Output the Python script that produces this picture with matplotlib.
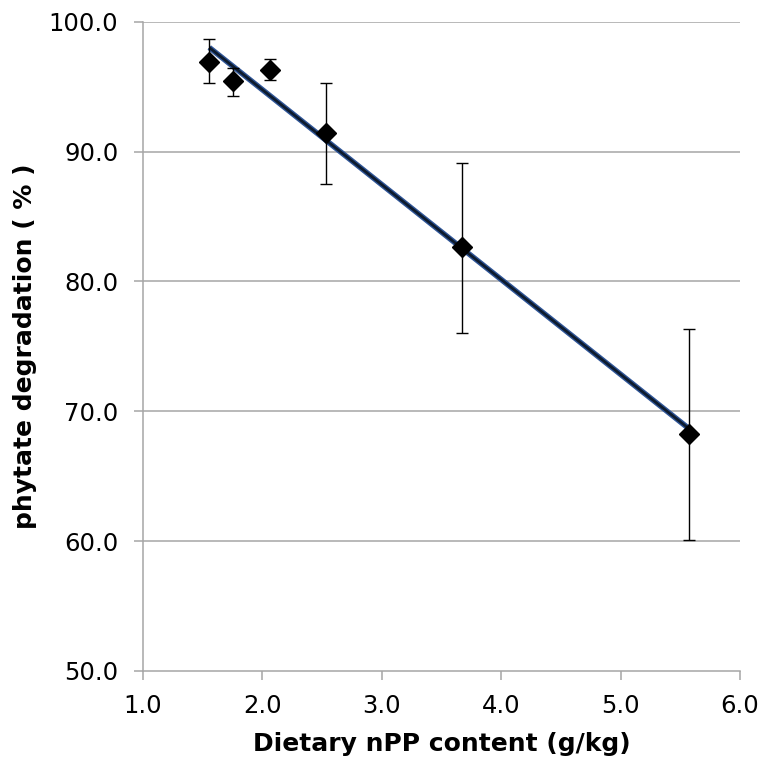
import numpy as np
import matplotlib
matplotlib.use("Agg")
import matplotlib.pyplot as plt

# Data
npp = [1.555, 1.756, 2.064, 2.53, 3.669, 5.575]
degradation = [96.9, 95.44, 96.28, 91.4, 82.65, 68.28]
err_upper = [98.65, 96.4, 97.1, 95.3, 89.1, 76.3]
err_lower = [95.3, 94.3, 95.5, 87.5, 76.0, 60.1]
xticks = [1.0, 2.0, 3.0, 4.0, 5.0, 6.0]
yticks = [50.0, 60.0, 70.0, 80.0, 90.0, 100.0]

x = np.array(npp)
y = np.array(degradation)
yerr = np.array([y - np.array(err_lower), np.array(err_upper) - y])

fig = plt.figure(figsize=(7.63, 7.60), dpi=100)
ax = fig.add_axes([143/763, 1-671/760, (740-143)/763, (671-21.7)/760])

for v in yticks[1:]:
    ax.axhline(v, color='#a6a6a6', lw=1.1, zorder=0)

# regression line
coef = np.polyfit(x, y, 1)
xl = np.array([x.min(), x.max()])
ax.plot(xl, np.polyval(coef, xl), color='#2f5597', lw=4.0, zorder=2, solid_capstyle='butt')
ax.plot(xl, np.polyval(coef, xl), color='#0d1b2e', lw=2.0, zorder=2.1, solid_capstyle='butt')

ax.errorbar(x, y, yerr=yerr, fmt='none', ecolor='black', elinewidth=1.0,
            capsize=4, capthick=1.0, zorder=3)
ax.plot(x, y, 'D', color='black', ms=10, zorder=4)

ax.set_xlim(1.0, 6.0)
ax.set_ylim(50.0, 100.0)
ax.set_xticks(xticks)
ax.set_yticks(yticks)
ax.set_xticklabels([f"{v:.1f}" for v in xticks])
ax.set_yticklabels([f"{v:.1f}" for v in yticks])

for s in ['top', 'right']:
    ax.spines[s].set_visible(False)
for s in ['left', 'bottom']:
    ax.spines[s].set_color('#a6a6a6')
    ax.spines[s].set_linewidth(1.1)
ax.tick_params(axis='both', colors='#a6a6a6', length=6.2, width=1.1,
               labelsize=17.5, labelcolor='black', direction='out')
ax.tick_params(axis='x', pad=10.5)
ax.tick_params(axis='y', pad=11.5)

ax.set_xlabel('Dietary nPP content (g/kg)', fontsize=18, fontweight='bold')
ax.set_ylabel('phytate degradation ( % )', fontsize=18, fontweight='bold')
ax.xaxis.set_label_coords(0.5, (671 - 731.7) / 649.3)
ax.yaxis.set_label_coords((37 - 143) / 597, 0.5)

fig.savefig('out.png', dpi=100)
